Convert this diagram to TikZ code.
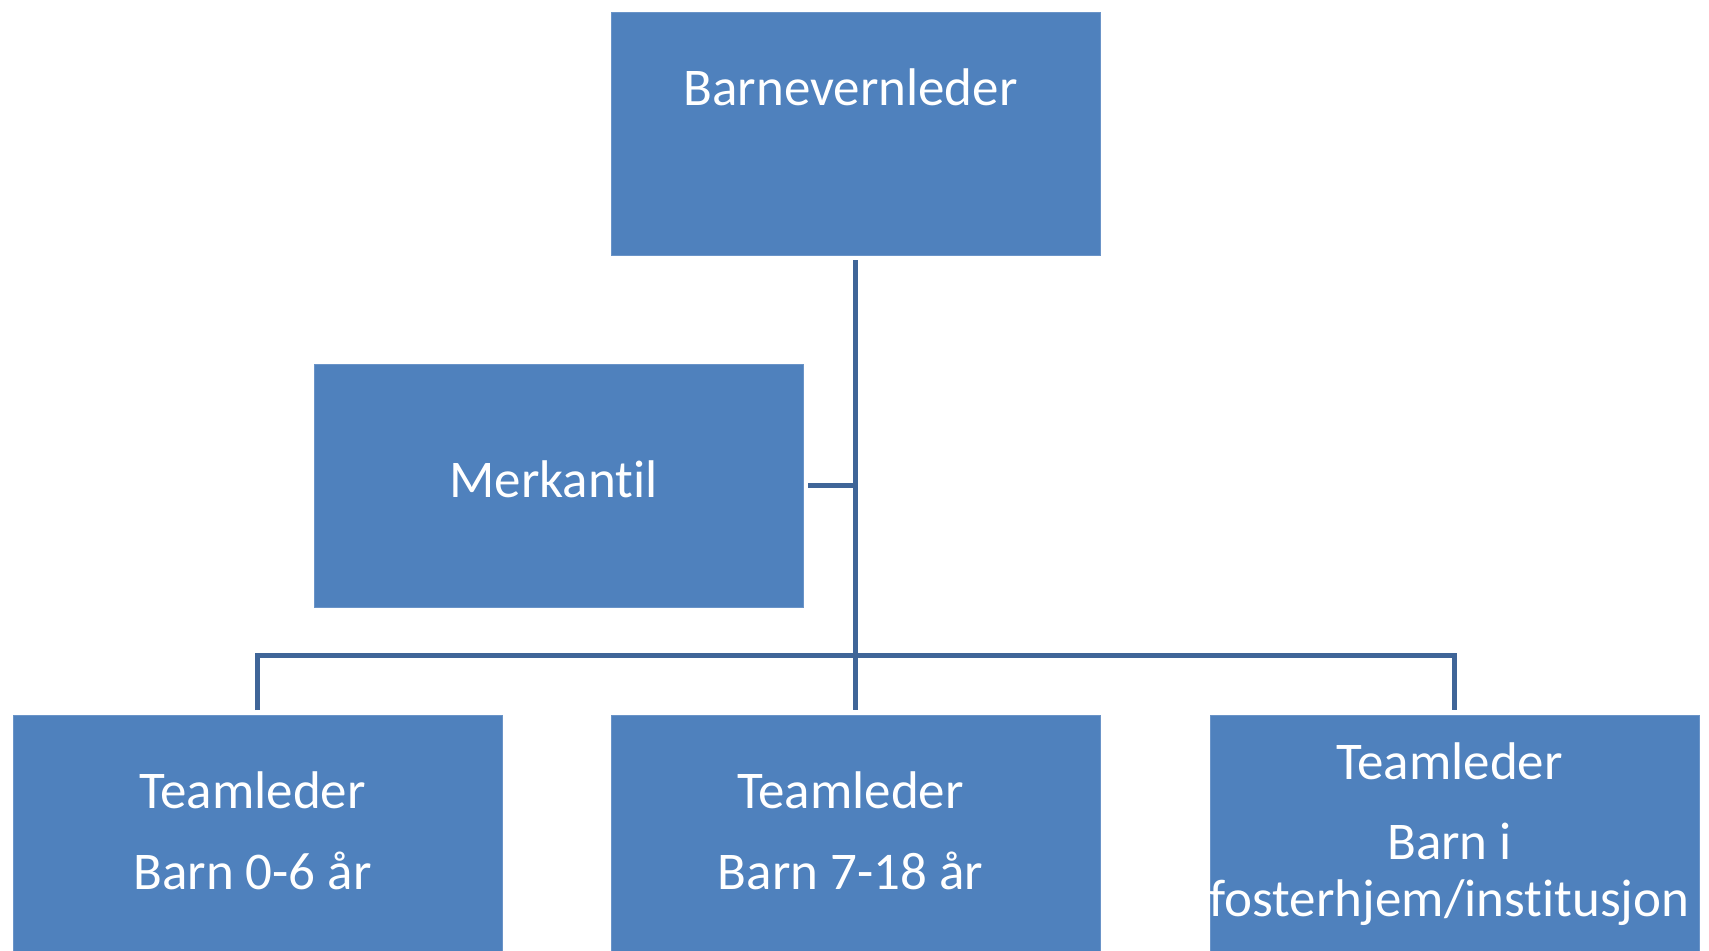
\documentclass[tikz,border=0pt]{standalone}
\usepackage{fontspec}
\setmainfont{Carlito}[Ligatures=NoCommon]
\definecolor{boxblue}{HTML}{4F81BD}
\definecolor{boxedge}{HTML}{6A94C8}
\definecolor{linkblue}{HTML}{3F6598}
\begin{document}
\begin{tikzpicture}[x=0.5pt,y=-0.5pt,
  orgbox/.style={draw=boxedge,line width=0.5pt,fill=boxblue,rectangle,minimum width=244.5pt,minimum height=121.5pt,inner sep=0pt,outer sep=2.5pt,anchor=north west},
  lbl/.style={text=white,font=\fontsize{26.5}{32}\selectfont,anchor=base,inner sep=0pt},
  conn/.style={draw=linkblue,line width=2.65pt}]
\useasboundingbox (0,0) rectangle (1709,950);
\node[orgbox] (top) at (606,7) {};
\node[orgbox] (merk) at (309,359) {};
\node[orgbox] (left) at (8,710) {};
\node[orgbox] (mid) at (606,710) {};
\node[orgbox] (right) at (1205,710) {};
\node[lbl] (ttop) at (850.5,105.5) {Barnevernleder};
\node[lbl] (tmerk) at (553.5,497) {Merkantil};
\node[lbl] (tl1) at (252.5,808) {Teamleder};
\node[lbl] (tl2) at (252.5,889) {Barn 0-6 år};
\node[lbl] (tm1) at (850.5,808) {Teamleder};
\node[lbl] (tm2) at (850.5,889) {Barn 7-18 år};
\node[lbl] (tr1) at (1449.5,779) {Teamleder};
\node[lbl] (tr2) at (1449.5,859) {Barn i};
\node[lbl] (tr3) at (1449.5,916) {fosterhjem/institusjon};
\coordinate (bus) at (850.5,655.7);
\draw[conn] (top.south) -- (mid.north);
\draw[conn] (merk.east) -- (merk.east -| top.south);
\draw[conn] (left.north) |- (bus) -| (right.north);
\end{tikzpicture}
\end{document}
